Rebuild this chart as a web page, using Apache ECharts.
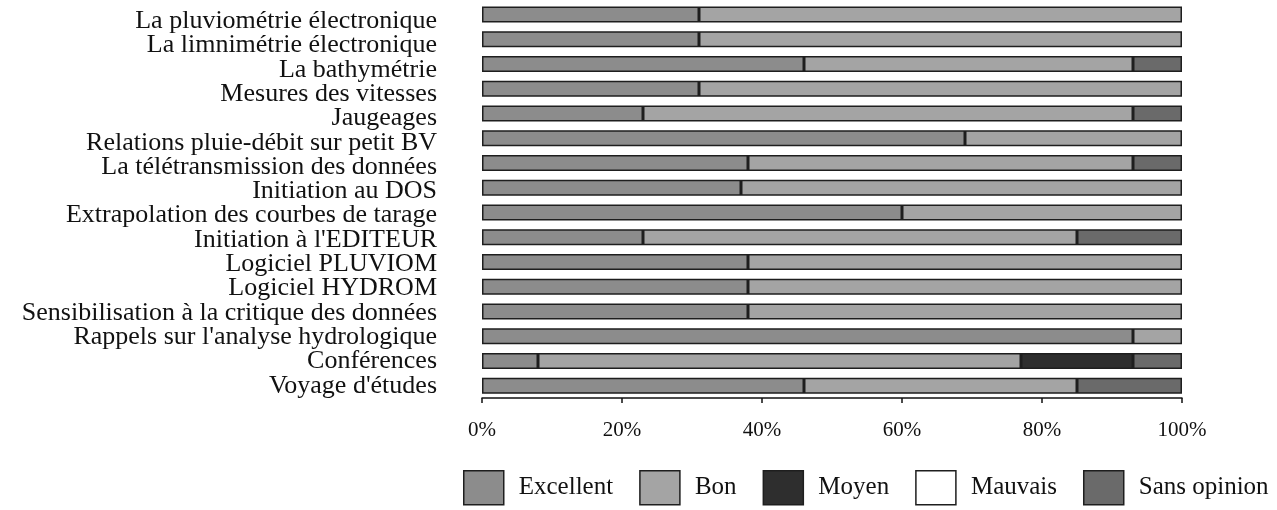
<!DOCTYPE html>
<html>
<head>
<meta charset="utf-8">
<script src="https://cdn.jsdelivr.net/npm/echarts@6/dist/echarts.min.js"></script>
<style>html,body{margin:0;padding:0;background:#fff;}#c{width:1277px;height:510px;}</style>
</head>
<body>
<div id="c"></div>
<script>
var categories = [
  'La pluviométrie électronique',
  'La limnimétrie électronique',
  'La bathymétrie',
  'Mesures des vitesses',
  'Jaugeages',
  'Relations pluie-débit sur petit BV',
  'La télétransmission des données',
  'Initiation au DOS',
  'Extrapolation des courbes de tarage',
  "Initiation à l'EDITEUR",
  'Logiciel PLUVIOM',
  'Logiciel HYDROM',
  'Sensibilisation à la critique des données',
  "Rappels sur l'analyse hydrologique",
  'Conférences',
  "Voyage d'études"
];
var excellent   = [31, 31, 46, 31, 23, 69, 38, 37, 60, 23, 38, 38, 38, 93,  8, 46];
var bon         = [69, 69, 47, 69, 70, 31, 55, 63, 40, 62, 62, 62, 62,  7, 69, 39];
var moyen       = [ 0,  0,  0,  0,  0,  0,  0,  0,  0,  0,  0,  0,  0,  0, 16,  0];
var mauvais     = [ 0,  0,  0,  0,  0,  0,  0,  0,  0,  0,  0,  0,  0,  0,  0,  0];
var sansOpinion = [ 0,  0,  7,  0,  7,  0,  7,  0,  0, 15,  0,  0,  0,  0,  7, 15];
var seriesNames = ['Excellent', 'Bon', 'Moyen', 'Mauvais', 'Sans opinion'];
var xTicks = [0, 20, 40, 60, 80, 100];

var colors = ['#8c8c8c', '#a4a4a4', '#2e2e2e', '#ffffff', '#6a6a6a'];
var values = [excellent, bon, moyen, mauvais, sansOpinion];
var serif = 'Liberation Serif';

var chart = echarts.init(document.getElementById('c'), null, {renderer: 'canvas'});
var series = seriesNames.map(function (name, i) {
  return {
    name: name,
    type: 'bar',
    stack: 'total',
    xAxisIndex: 0,
    yAxisIndex: 0,
    barWidth: 16,
    data: values[i].map(function (v) { return v === 0 ? null : v; }),
    itemStyle: {color: colors[i], borderColor: '#1e1e1e', borderWidth: 1.5},
    emphasis: {disabled: true},
    animation: false
  };
});

chart.setOption({
  backgroundColor: '#ffffff',
  animation: false,
  color: colors,
  grid: [
    {left: 482, width: 700, top: 2, height: 396},
    {left: 482, width: 700, top: 9, height: 389}
  ],
  xAxis: [
    {
      gridIndex: 0,
      type: 'value',
      min: xTicks[0],
      max: xTicks[xTicks.length - 1],
      interval: xTicks[1] - xTicks[0],
      axisLine: {show: true, lineStyle: {color: '#111', width: 1.5}},
      axisTick: {show: true, length: 5, lineStyle: {color: '#111', width: 1.5}},
      splitLine: {show: false},
      axisLabel: {
        margin: 22,
        color: '#111',
        fontFamily: serif,
        fontSize: 21,
        formatter: '{value}%'
      }
    },
    {gridIndex: 1, type: 'value', show: false, min: 0, max: 100}
  ],
  yAxis: [
    {
      gridIndex: 0,
      type: 'category',
      inverse: true,
      data: categories,
      axisLine: {show: false},
      axisTick: {show: false},
      axisLabel: {show: false}
    },
    {
      gridIndex: 1,
      type: 'category',
      inverse: true,
      data: categories,
      axisLine: {show: false},
      axisTick: {show: false},
      splitLine: {show: false},
      axisLabel: {
        interval: 0,
        margin: 45,
        color: '#111',
        fontFamily: serif,
        fontSize: 26
      }
    }
  ],
  legend: {
    data: seriesNames,
    left: 463,
    top: 470,
    width: 814,
    padding: 0,
    itemWidth: 40,
    itemHeight: 34,
    itemGap: 26,
    selectedMode: false,
    icon: 'rect',
    itemStyle: {borderColor: '#1e1e1e', borderWidth: 1.5},
    textStyle: {
      color: '#111',
      fontFamily: serif,
      fontSize: 25,
      padding: [0, 0, 0, 10]
    }
  },
  series: series
});
</script>
</body>
</html>
